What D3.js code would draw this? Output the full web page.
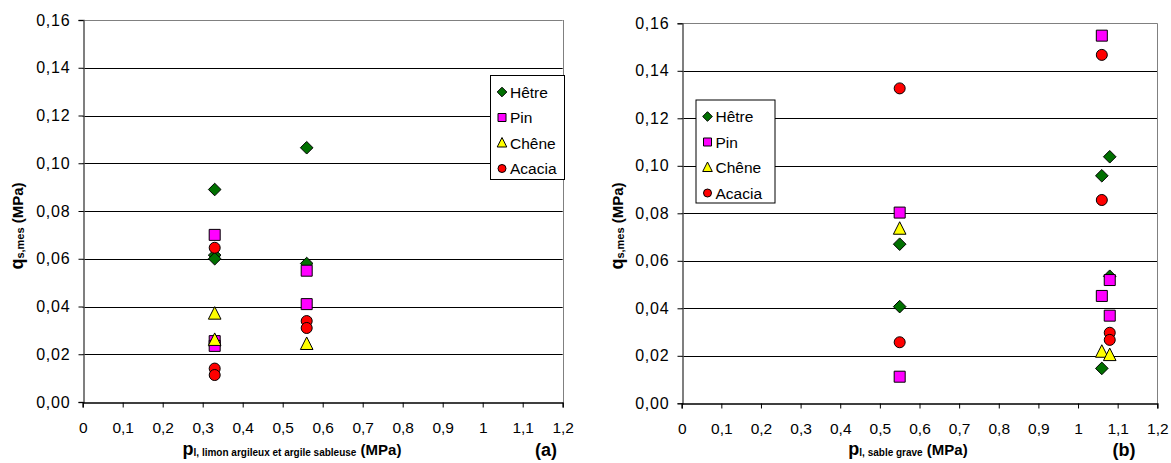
<!DOCTYPE html>
<html><head><meta charset="utf-8">
<script src="https://cdn.jsdelivr.net/npm/d3@7"></script>
<style>body{margin:0;background:#fff;}svg{display:block;font-family:Arial,"Liberation Sans",sans-serif;}</style>
</head><body>
<svg id="c" width="1171" height="463"></svg>
<script>
const seriesNames = ["Hêtre", "Pin", "Chêne", "Acacia"];
const seriesColors = ["#007000", "#ff00ff", "#ffff00", "#ff0000"];
const seriesShapes = ["diamond", "square", "triangle", "circle"];
const yTicks = [0, 0.02, 0.04, 0.06, 0.08, 0.10, 0.12, 0.14, 0.16];
const xTicks = [0, 0.1, 0.2, 0.3, 0.4, 0.5, 0.6, 0.7, 0.8, 0.9, 1.0, 1.1, 1.2];

// Panel (a)
const aHetreX = [0.33, 0.33, 0.33, 0.56, 0.56];
const aHetreY = [0.089, 0.0615, 0.0600, 0.1065, 0.058];
const aPinX = [0.33, 0.33, 0.33, 0.56, 0.56];
const aPinY = [0.070, 0.0255, 0.0235, 0.055, 0.041];
const aCheneX = [0.33, 0.33, 0.56];
const aCheneY = [0.037, 0.026, 0.0243];
const aAcaciaX = [0.33, 0.33, 0.33, 0.56, 0.56];
const aAcaciaY = [0.0646, 0.014, 0.0113, 0.0339, 0.031];

// Panel (b)
const bHetreX = [0.55, 0.55, 1.08, 1.06, 1.08, 1.06];
const bHetreY = [0.067, 0.0407, 0.1038, 0.0958, 0.0535, 0.0147];
const bPinX = [0.55, 0.55, 1.06, 1.08, 1.06, 1.08];
const bPinY = [0.0803, 0.0112, 0.1548, 0.0519, 0.0452, 0.0369];
const bCheneX = [0.55, 1.06, 1.08];
const bCheneY = [0.0735, 0.0217, 0.0203];
const bAcaciaX = [0.55, 0.55, 1.06, 1.06, 1.08, 1.08];
const bAcaciaY = [0.1326, 0.0257, 0.1467, 0.0856, 0.0297, 0.0267];

const fmt = v => (v === 0 ? "0" : (Math.round(v*100)/100).toString()).replace(".", ",");
const fmtY = v => v.toFixed(2).replace(".", ",");

const svg = d3.select("#c");

function shapePath(shape, s) {
  const h = s/2;
  if (shape === "diamond") return `M0,${-h-0.8}L${h+0.8},0L0,${h+0.8}L${-h-0.8},0Z`;
  if (shape === "square") return `M${-h},${-h}H${h}V${h}H${-h}Z`;
  if (shape === "triangle") return `M0,${-h-1.5}L${h+0.8},${h}L${-h-0.8},${h}Z`;
  return null;
}
function drawMarker(g, shape, color, s) {
  if (shape === "circle") {
    g.append("circle").attr("r", s/2).attr("fill", color).attr("stroke", "#000").attr("stroke-width", 1);
  } else {
    g.append("path").attr("d", shapePath(shape, s)).attr("fill", color).attr("stroke", "#000").attr("stroke-width", 1);
  }
}

function panel(cfg) {
  const x = d3.scaleLinear().domain([0, 1.2]).range([cfg.x0, cfg.x1]);
  const y = d3.scaleLinear().domain([0, 0.16]).range([cfg.y0, cfg.y1]);
  const g = svg.append("g");
  // gridlines
  g.selectAll(".grid").data(yTicks.filter(d => d > 0)).join("line")
    .attr("x1", cfg.x0).attr("x2", cfg.x1)
    .attr("y1", d => Math.round(y(d)) + 0.5).attr("y2", d => Math.round(y(d)) + 0.5)
    .attr("stroke", d => d === 0.16 ? "#808080" : "#000").attr("stroke-width", 1);
  // right border
  g.append("line").attr("x1", Math.round(cfg.x1)+0.5).attr("x2", Math.round(cfg.x1)+0.5)
    .attr("y1", cfg.y1).attr("y2", cfg.y0).attr("stroke", "#808080");
  // y axis
  const ya = d3.axisLeft(y).tickValues(yTicks).tickFormat(fmtY).tickSize(5).tickPadding(8);
  const yg = g.append("g").attr("transform", `translate(${Math.round(cfg.x0)+0.5},0)`).call(ya);
  yg.select(".domain").attr("stroke", "#555").attr("stroke-width", 1.5);
  yg.selectAll(".tick line").attr("stroke", "#000");
  yg.selectAll("text").attr("font-size", 16).attr("letter-spacing", 0.8).attr("fill", "#000")
    .attr("font-family", "Arial, 'Liberation Sans', sans-serif");
  // x axis
  const xa = d3.axisBottom(x).tickValues(xTicks).tickFormat(fmt).tickSize(5).tickPadding(14);
  const xg = g.append("g").attr("transform", `translate(0,${Math.round(cfg.y0)+0.5})`).call(xa);
  xg.select(".domain").attr("stroke", "#000").attr("stroke-width", 1.3);
  xg.selectAll(".tick line").attr("stroke", "#000");
  xg.selectAll("text").attr("font-size", 15.5).attr("fill", "#000").attr("font-family", "Arial, 'Liberation Sans', sans-serif");

  // points
  cfg.series.forEach((s, i) => {
    s.xs.forEach((xv, j) => {
      const mg = g.append("g").attr("transform", `translate(${x(xv)},${y(s.ys[j])})`);
      drawMarker(mg, seriesShapes[i], seriesColors[i], 11);
    });
  });

  // legend
  const L = cfg.legend;
  const lg = g.append("g");
  lg.append("rect").attr("x", L.x + 0.5).attr("y", L.y + 0.5).attr("width", L.w).attr("height", L.h)
    .attr("fill", "#fff").attr("stroke", "#000").attr("stroke-width", 1);
  seriesNames.forEach((n, i) => {
    const cy = L.y + 17 + i * 25.5;
    const mg = lg.append("g").attr("transform", `translate(${L.x + 12},${cy})`);
    drawMarker(mg, seriesShapes[i], seriesColors[i], 8);
    lg.append("text").attr("x", L.x + 20).attr("y", cy + 5.5).attr("font-size", 15.5).text(n);
  });

  // x title
  const xt = g.append("text").attr("x", cfg.xtX).attr("y", 455).attr("text-anchor", "middle")
    .attr("font-weight", "bold");
  xt.append("tspan").attr("font-size", 18).text("p");
  xt.append("tspan").attr("font-size", 10).attr("dy", 1).text(cfg.sub);
  xt.append("tspan").attr("font-size", 15).attr("dy", -1).text(" (MPa)");
  g.append("text").attr("x", cfg.tagX).attr("y", 456).attr("text-anchor", "middle")
    .attr("font-weight", "bold").attr("font-size", 18).text(cfg.tag);

  // y title
  const yt = g.append("text").attr("transform", `translate(${cfg.ytX},${cfg.ytY}) rotate(-90)`)
    .attr("text-anchor", "middle").attr("font-weight", "bold");
  yt.append("tspan").attr("font-size", 18).text("q");
  yt.append("tspan").attr("font-size", 11).attr("dy", 1).text("s,mes");
  yt.append("tspan").attr("font-size", 15).attr("dy", -1).text("  (MPa)");
}

panel({
  x0: 82.7, x1: 562.7, y0: 402, y1: 20,
  series: [
    {xs: aHetreX, ys: aHetreY}, {xs: aPinX, ys: aPinY},
    {xs: aCheneX, ys: aCheneY}, {xs: aAcaciaX, ys: aAcaciaY}
  ],
  legend: {x: 490, y: 75, w: 74, h: 104},
  sub: "l, limon argileux et argile sableuse", xtX: 292, tag: "(a)", tagX: 546,
  ytX: 23, ytY: 226
});
panel({
  x0: 681.7, x1: 1157.3, y0: 403.3, y1: 23.3,
  series: [
    {xs: bHetreX, ys: bHetreY}, {xs: bPinX, ys: bPinY},
    {xs: bCheneX, ys: bCheneY}, {xs: bAcaciaX, ys: bAcaciaY}
  ],
  legend: {x: 695.5, y: 99.5, w: 79, h: 103},
  sub: "l, sable grave", xtX: 908, tag: "(b)", tagX: 1124,
  ytX: 623, ytY: 226
});
</script>
</body></html>
